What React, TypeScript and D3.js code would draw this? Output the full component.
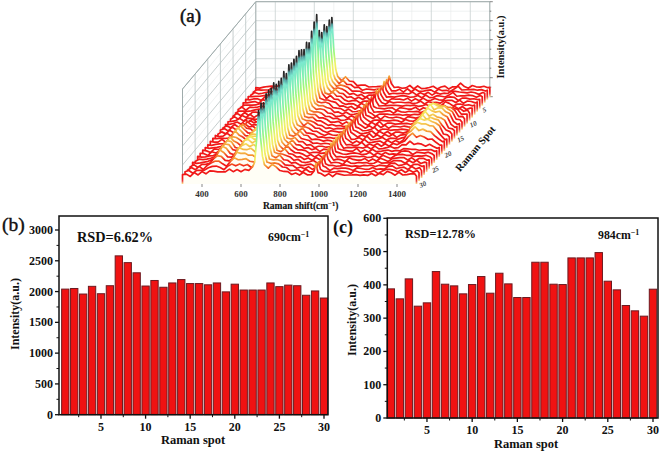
import React from "react";
import * as d3 from "d3";

const spots = d3.range(1, 31);
const valuesB = [2040,2050,1960,2085,1965,2095,2580,2470,2305,2090,2180,2070,2140,2195,2130,2130,2110,2140,1995,2120,2025,2025,2025,2140,2080,2105,2095,1940,2010,1895];
const valuesC = [388,358,418,336,346,440,402,397,373,401,425,375,435,403,362,362,468,468,402,401,481,481,481,497,411,385,338,322,306,387];
const shifts = [300,320,340,360,380,400,420,440,460,480,500,520,540,560,580,600,620,640,660,670,680,690,700,710,720,740,760,780,800,820,840,860,880,900,920,940,960,975,984,995,1010,1030,1050,1070,1090,1110,1130,1150,1170,1190,1210,1230,1250,1270,1290,1310,1330,1350,1370,1390,1410,1430,1450,1470,1490,1500];
const baseProfile = [.09,.10,.09,.11,.10,.12,.11,.12,.11,.13,.12,.12,.13,.12,.13,.12,.13,.14,.17,.24,.46,0,.5,.28,.21,.18,.20,.17,.15,.13,.12,.11,.11,.10,.11,.10,.11,.13,0,.13,.10,.09,.10,.09,.11,.09,.10,.09,.10,.09,.10,.09,.10,.10,.09,.10,.11,.13,.11,.10,.11,.10,.11,.10,.10,.09];
const roughness = [.006,-.009,.01,-.003,.012,-.011,.003,.008,-.007,.013,-.005,-.012,.007,.01,-.008,.002,.011,-.01,.005,-.006,.012,-.003,-.011,.008,.004,-.01,.01,-.005,.009,-.013,.002,.012,-.008,.005,-.004,.009,-.01];
const lowBandBySpot = [0,0,0,0,0,0,0,0,0,0,0,0,.02,.04,.06,.08,.11,.13,.14,.14,.13,.14,.15,.15,.14,.13,.11,.08,.05,.02];
const lowBandByShift = [0,0,0,0,0,.1,.5,.8,.7,.3,.2,.6,.9,1,.8,.9,.7,.3];
const highBandBySpot = [0,0,0,0,0,0,0,0,.02,.07,.12,.15,.16,.16,.15,.15,.16,.15,.12,.08,.03,0,0,0,0,0,0,0,0,0];
const highBandShift = [1290,1310,1330,1350,1370,1390,1410,1430,1450,1470];
const highBandWeight = [.2,.6,.9,1,.9,1,.9,.8,.5,.15];
const xTicks3d = [400,600,800,1000,1200,1400];
const spotTicks3d = [5,10,15,20,25,30];
const zGrid = [.2,.4,.6,.8,1];
const zMinor = [.1,.3,.5,.7,.9];
const gridShifts = [400,600,800,1000,1200,1400];
const gridMinorShifts = [300,500,700,900,1100,1300,1500];
const gridSpots = [5,10,15,20,25];
const gradStops: [number,string][] = [[0,"#ffe98a"],[.04,"#e84040"],[.07,"#f01818"],[.19,"#f01818"],[.24,"#f59030"],[.32,"#f5e860"],[.42,"#eef468"],[.55,"#a0f878"],[.68,"#7cf0b0"],[.85,"#7ce8d0"],[.91,"#50a0a0"],[.94,"#333333"],[1,"#222222"]];

const xMap = d3.scaleLinear().domain([300,1500]).range([182.5,416.5]);
const depth = d3.scaleLinear().domain([30,1]).range([0,1]);
const zMap = d3.scaleLinear().domain([0,1]).range([0,95]);
const proj = (w:number,s:number,z:number):[number,number] => {
  const t = depth(s);
  return [xMap(w)+t*73.3, 184-t*87.3-zMap(z)];
};
const spectrum = (si:number) => shifts.map((w,i)=>{
  if (w===690) return valuesB[si]/2450;
  let z = baseProfile[i];
  if (w===984) z = .14 + valuesC[si]/500*.1;
  else z += roughness[(i+si*11)%roughness.length];
  if (i<lowBandByShift.length) z += lowBandBySpot[si]*lowBandByShift[i];
  const h = highBandShift.indexOf(w);
  if (h>=0) z += highBandBySpot[si]*highBandWeight[h];
  return z;
});

const SERIF = "'Liberation Serif','Times New Roman',serif";
const FRAME = "#9fabab";

function Panel3D(){
  const lines:React.ReactElement[]=[];
  const seg=(a:[number,number],b:[number,number],c:string,w:number,k:string)=>lines.push(<line key={k} x1={a[0]} y1={a[1]} x2={b[0]} y2={b[1]} stroke={c} strokeWidth={w}/>);
  zMinor.forEach(z=>{seg(proj(300,1,z),proj(1500,1,z),"#e6eaea",.6,"mzb"+z);seg(proj(300,1,z),proj(300,30,z),"#e6eaea",.6,"mzl"+z);});
  zGrid.forEach(z=>{seg(proj(300,1,z),proj(1500,1,z),"#c9d2d2",.8,"zb"+z);seg(proj(300,1,z),proj(300,30,z),"#b8c2c2",.8,"zl"+z);});
  gridMinorShifts.forEach(w=>{seg(proj(w,1,0),proj(w,1,1),"#e6eaea",.6,"mw"+w);});
  gridShifts.forEach(w=>{seg(proj(w,1,0),proj(w,1,1),"#c9d2d2",.8,"gw"+w);seg(proj(w,30,0),proj(w,1,0),"#d5dcdc",.7,"fw"+w);});
  gridSpots.forEach(s=>{seg(proj(300,s,0),proj(300,s,1),"#b8c2c2",.8,"gs"+s);seg(proj(300,s,0),proj(1500,s,0),"#d5dcdc",.7,"fs"+s);});
  seg(proj(300,30,0),proj(300,30,1),FRAME,1,"f1");
  seg(proj(300,1,0),proj(300,1,1),FRAME,1,"f2");
  seg(proj(1500,1,0),proj(1500,1,1),FRAME,1,"f3");
  seg(proj(300,1,1),proj(1500,1,1),FRAME,1,"f4");
  seg(proj(300,30,1),proj(300,1,1),FRAME,1,"f5");
  seg(proj(300,30,0),proj(300,1,0),FRAME,1,"f6");
  seg(proj(300,1,0),proj(1500,1,0),FRAME,1,"f7");
  const zTicksAll=d3.range(0,1.001,.1);
  zTicksAll.forEach((z,i)=>{const p=proj(1500,1,z);seg(p,[p[0]+(i%2?1.5:3),p[1]],"#555",.7,"zt"+i);});
  const lineGen=d3.line<[number,number]>().x(d=>d[0]).y(d=>d[1]);
  return <g>
    {lines}
    <defs>{spots.map(s=>{
      const zs=spectrum(s-1);const top=d3.max(zs)!;
      const y1=proj(300,s,0)[1];const y2=proj(300,s,top)[1];
      return <linearGradient key={s} id={"sp"+s} gradientUnits="userSpaceOnUse" x1={0} x2={0} y1={y1} y2={y2}>
        {gradStops.map(([o,c])=><stop key={o} offset={o} stopColor={c}/>)}
      </linearGradient>;
    })}</defs>
    {spots.map(s=>{
      const zs=spectrum(s-1);
      const pts:[number,number][]=[proj(300,s,0),...shifts.map((w,i)=>proj(w,s,zs[i])),proj(1500,s,0)];
      return <path key={s} d={lineGen(pts)!} fill="#fffef6" stroke={`url(#sp${s})`} strokeWidth={1.7} strokeLinejoin="round"/>;
    })}
    {xTicks3d.map(w=><g key={w}>
      <line x1={xMap(w)} x2={xMap(w)} y1={184} y2={187} stroke="#555" strokeWidth={.7}/>
      <text x={xMap(w)} y={197} textAnchor="middle" fontFamily={SERIF} fontWeight="bold" fontSize={9} fill="#333">{w}</text>
    </g>)}
    {spotTicks3d.map(s=>{const p=proj(1500,s,0);return <text key={s} transform={`translate(${p[0]+4},${p[1]+4}) rotate(-25)`} fontFamily={SERIF} fontWeight="bold" fontStyle="italic" fontSize={7} fill="#444">{s}</text>;})}
    <text x={263} y={209} fontFamily={SERIF} fontWeight="bold" fontSize={9.5} fill="#111" stroke="#111" strokeWidth={.15}>Raman shift(cm<tspan dy={-3} fontSize={6.5}>−1</tspan><tspan dy={3}>)</tspan></text>
    <text transform="translate(504,47) rotate(-90)" textAnchor="middle" fontFamily={SERIF} fontWeight="bold" fontSize={10.5} fill="#111">Intensity(a.u.)</text>
    <text transform="translate(478,151) rotate(-50)" textAnchor="middle" fontFamily={SERIF} fontWeight="bold" fontSize={10.5} fill="#111">Raman Spot</text>
    <text x={180} y={22} fontFamily={SERIF} fontSize={19} fill="#111" stroke="#111" strokeWidth={.5}>(a)</text>
  </g>;
}

type BarProps={values:number[];left:number;right:number;x1:number;x30:number;y0:number;yTop:number;yMaxTickY:number;yMax:number;step:number;labelSize:number};
function BarPanel({values,left,right,x1,x30,y0,yTop,yMaxTickY,yMax,step,labelSize}:BarProps){
  const x=d3.scaleLinear().domain([1,30]).range([x1,x30]);
  const y=d3.scaleLinear().domain([0,yMax]).range([y0,yMaxTickY]);
  const bw=(x(2)-x(1))*.82;
  const yT=d3.range(0,yMax+1,step);
  const yM=d3.range(step/2,yMax,step);
  const xT=[5,10,15,20,25,30];
  const xM=[2.5,7.5,12.5,17.5,22.5,27.5];
  return <g>
    {values.map((v,i)=><rect key={i} x={x(i+1)-bw/2} y={y(v)} width={bw} height={y0-y(v)} fill="#f01212" stroke="#6d1a20" strokeWidth={1}/>)}
    <rect x={left} y={yTop} width={right-left} height={y0-yTop} fill="none" stroke="#111" strokeWidth={1.5}/>
    {yT.map(t=><g key={t}>
      <line x1={left-4} x2={left} y1={y(t)} y2={y(t)} stroke="#111" strokeWidth={1.3}/>
      <text x={left-6} y={y(t)+4} textAnchor="end" fontFamily={SERIF} fontWeight="bold" fontSize={labelSize} fill="#111">{t}</text>
    </g>)}
    {yM.map(t=><line key={t} x1={left-2.5} x2={left} y1={y(t)} y2={y(t)} stroke="#111" strokeWidth={1}/>)}
    {xT.map(t=><g key={t}>
      <line x1={x(t)} x2={x(t)} y1={y0} y2={y0+4} stroke="#111" strokeWidth={1.3}/>
      <text x={x(t)} y={y0+16} textAnchor="middle" fontFamily={SERIF} fontWeight="bold" fontSize={labelSize} fill="#111">{t}</text>
    </g>)}
    {xM.map(t=><line key={t} x1={x(t)} x2={x(t)} y1={y0} y2={y0+2.5} stroke="#111" strokeWidth={1}/>)}
  </g>;
}

const Sup=({t}:{t:string})=><tspan dy={-4} fontSize={8}>{t}</tspan>;

export default function App(){
  return <svg width={661} height={454} viewBox="0 0 661 454" style={{position:"absolute",left:0,top:0,background:"#fff"}}>
    <Panel3D/>
    <BarPanel values={valuesB} left={59} right={328} x1={65.3} x30={324} y0={414.7} yTop={216} yMaxTickY={230} yMax={3000} step={500} labelSize={12}/>
    <text x={2} y={231} fontFamily={SERIF} fontSize={19.5} fill="#111" stroke="#111" strokeWidth={.4}>(b)</text>
    <text x={77} y={242} fontFamily={SERIF} fontWeight="bold" fontSize={14.3} fill="#111">RSD=6.62%</text>
    <text x={268} y={241} fontFamily={SERIF} fontWeight="bold" fontSize={11.8} fill="#111">690cm<Sup t="−1"/></text>
    <text transform="translate(19,314) rotate(-90)" textAnchor="middle" fontFamily={SERIF} fontWeight="bold" fontSize={12} fill="#111">Intensity(a.u.)</text>
    <text x={193} y={444} textAnchor="middle" fontFamily={SERIF} fontWeight="bold" fontSize={12.5} fill="#111">Raman spot</text>

    <BarPanel values={valuesC} left={387.3} right={658} x1={390.8} x30={653} y0={418} yTop={218} yMaxTickY={218.3} yMax={600} step={100} labelSize={12}/>
    <text x={333} y={233} fontFamily={SERIF} fontWeight="bold" fontSize={18} fill="#111">(c)</text>
    <text x={405} y={238} fontFamily={SERIF} fontWeight="bold" fontSize={12.2} fill="#111">RSD=12.78%</text>
    <text x={598} y={239} fontFamily={SERIF} fontWeight="bold" fontSize={11.8} fill="#111">984cm<Sup t="−1"/></text>
    <text transform="translate(356,320) rotate(-90)" textAnchor="middle" fontFamily={SERIF} fontWeight="bold" fontSize={12} fill="#111">Intensity(a.u.)</text>
    <text x={526} y={448} textAnchor="middle" fontFamily={SERIF} fontWeight="bold" fontSize={12.5} fill="#111">Raman spot</text>
  </svg>;
}
